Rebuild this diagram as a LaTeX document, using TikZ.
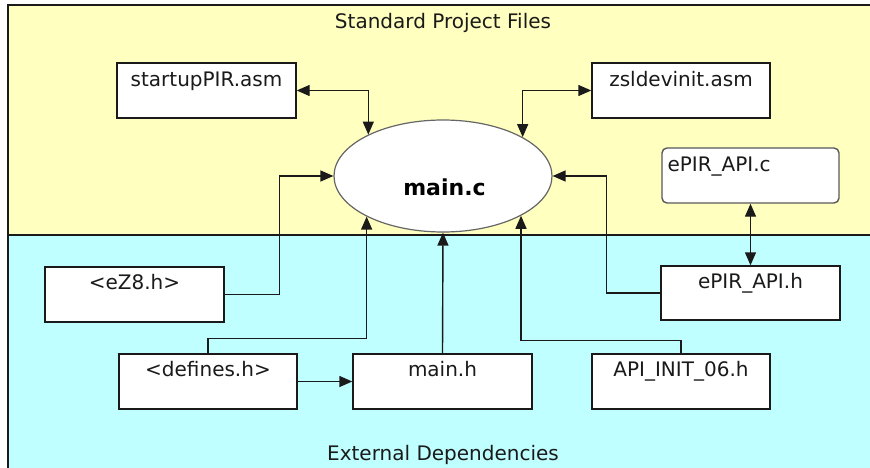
\documentclass[tikz,border=0pt]{standalone}
\usepackage{fontspec}
\setmainfont{DejaVu Sans}
\usetikzlibrary{arrows.meta,shapes.geometric,calc}
\definecolor{stdyellow}{HTML}{FFFFC0}
\definecolor{extcyan}{HTML}{C0FFFF}
\definecolor{ink}{HTML}{1A1A1A}
\tikzset{
  filebox/.style={draw=ink, line width=1.4pt, fill=white, rectangle, minimum width=178pt, minimum height=55pt, inner sep=0pt},
  roundbox/.style={filebox, rounded corners=5pt, draw=black!65},
  ftext/.style={anchor=base, inner sep=0pt, text=ink, font=\fontsize{20}{23}\selectfont},
  conn/.style={draw=ink, line width=1.4pt},
  arr/.style={conn, -{Triangle[length=13pt,width=11pt]}},
  darr/.style={conn, {Triangle[length=13pt,width=11pt]}-{Triangle[length=13pt,width=11pt]}},
}
\begin{document}
\begin{tikzpicture}[x=1pt,y=-1pt]
\useasboundingbox (0,0) rectangle (870,468);
% regions
\fill[stdyellow] (8,5) rectangle (870,235);
\fill[extcyan] (8,235) rectangle (870,468);
\draw[ink, line width=1.7pt] (870,5) -- (8,5) -- (8,468);
\draw[ink, line width=1.4pt] (8,235) -- (870,235);
\node[ftext] (stdlbl) at (443,29) {Standard Project Files};
\node[ftext] (extlbl) at (443,460) {External Dependencies};
% main ellipse
\node[ellipse, draw=black!60, line width=1.2pt, fill=white, minimum width=218pt, minimum height=112pt, inner sep=0pt] (main) at (443,176) {};
\node[anchor=base, inner sep=0pt, text=black, font=\fontsize{22}{26}\selectfont\bfseries] (mainlbl) at (444.5,195) {main.c};
% boxes
\node[filebox, minimum width=179pt] (sp) at (206.5,90.5) {};
\node[ftext] at ([yshift=-24.4pt]sp.north) {startupPIR.asm};
\node[filebox] (zs) at (681,90.5) {};
\node[ftext] at ([yshift=-24.4pt]zs.north) {zsldevinit.asm};
\node[roundbox, minimum width=177pt] (ec) at (750.5,175.5) {};
\node[ftext, anchor=base west] at ([xshift=6pt,yshift=-24pt]ec.north west) {ePIR\_API.c};
\node[filebox, minimum width=179pt] (ez) at (134.5,294.5) {};
\node[ftext] at ([yshift=-23.5pt]ez.north) {<eZ8.h>};
\node[filebox] (def) at (208,381.5) {};
\node[ftext] at ([yshift=-23.5pt]def.north) {<defines.h>};
\node[filebox, minimum width=179pt] (mh) at (442.5,381.5) {};
\node[ftext] at ([yshift=-23.5pt]mh.north) {main.h};
\node[filebox] (api) at (681,381.5) {};
\node[ftext] at ([yshift=-23.5pt]api.north) {API\_INIT\_06.h};
\node[filebox, minimum width=179pt, minimum height=54pt] (eh) at (750.5,293) {};
\node[ftext] at ([yshift=-23.5pt]eh.north) {ePIR\_API.h};
% connectors
\draw[darr] (sp.east) -| (main.151.57);
\draw[darr] (zs.west) -| (main.26.6);
\draw[arr] (ez.east) -- ++(55,0) |- (main.west);
\draw[arr] (def.north) -- ++(0,-15) -| (main.208.43);
\draw[arr] (def.east) -- (mh.west);
\draw[arr] (mh.north) -- (main.south);
\draw[arr] (api.north) -- ++(0,-13) -| (main.333.4);
\draw[arr] (eh.west) -- ++(-54,0) |- (main.east);
\draw[darr] (ec.south) -- (eh.north);
\end{tikzpicture}
\end{document}
